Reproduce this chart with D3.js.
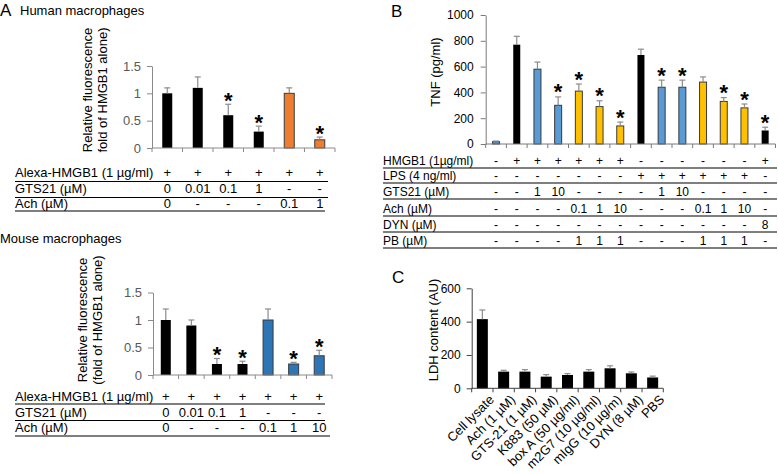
<!DOCTYPE html>
<html><head><meta charset="utf-8">
<script src="https://cdn.jsdelivr.net/npm/d3@7"></script>
<style>
body{margin:0;background:#fff;}
svg{display:block;font-family:"Liberation Sans",Arial,sans-serif;}
</style></head>
<body><svg id="c" width="778" height="474"></svg>
<script>
// ---------- DATA ----------
// Panel A - human macrophages
const humanValues = [1.0, 1.1, 0.6, 0.3, 1.0, 0.15];
const humanErrors = [0.1, 0.2, 0.2, 0.1, 0.1, 0.05];
const humanSig    = [0, 0, 1, 1, 0, 1];
const humanGroup  = ["ctrl","ctrl","ctrl","ctrl","ach","ach"];
const humanRowLabels = ["Alexa-HMGB1 (1 µg/ml)", "GTS21 (µM)", "Ach (µM)"];
const humanRowAlexa = ["+","+","+","+","+","+"];
const humanRowGTS   = ["0","0.01","0.1","1","-","-"];
const humanRowAch   = ["0","-","-","-","0.1","1"];
const fluorTicks = [0, 0.5, 1, 1.5];

// Panel A - mouse macrophages
const mouseValues = [1.0, 0.9, 0.2, 0.2, 1.0, 0.2, 0.35];
const mouseErrors = [0.2, 0.1, 0.1, 0.05, 0.2, 0.03, 0.1];
const mouseSig    = [0, 0, 1, 1, 0, 1, 1];
const mouseGroup  = ["ctrl","ctrl","ctrl","ctrl","achM","achM","achM"];
const mouseRowAlexa = ["+","+","+","+","+","+","+"];
const mouseRowGTS   = ["0","0.01","0.1","1","-","-","-"];
const mouseRowAch   = ["0","-","-","-","0.1","1","10"];

// Panel B - TNF
const tnfValues = [18, 770, 580, 300, 410, 290, 140, 690, 440, 440, 480, 330, 280, 105];
const tnfErrors = [5, 65, 55, 65, 55, 45, 30, 45, 55, 55, 40, 30, 30, 25];
const tnfSig    = [0, 0, 0, 1, 1, 1, 1, 0, 1, 1, 0, 1, 1, 1];
const tnfGroup  = ["blue","ctrl","blue","blue","yellow","yellow","yellow","ctrl","blue","blue","yellow","yellow","yellow","ctrl"];
const tnfTicks  = [0, 200, 400, 600, 800, 1000];
const tnfRowLabels = ["HMGB1 (1µg/ml)", "LPS (4 ng/ml)", "GTS21 (µM)", "Ach (µM)", "DYN (µM)", "PB (µM)"];
const tnfRowHMGB1 = ["-","+","+","+","+","+","+","-","-","-","-","-","-","+"];
const tnfRowLPS   = ["-","-","-","-","-","-","-","+","+","+","+","+","+","-"];
const tnfRowGTS   = ["-","-","1","10","-","-","-","-","1","10","-","-","-","-"];
const tnfRowAch   = ["-","-","-","-","0.1","1","10","-","-","-","0.1","1","10","-"];
const tnfRowDYN   = ["-","-","-","-","-","-","-","-","-","-","-","-","-","8"];
const tnfRowPB    = ["-","-","-","-","1","1","1","-","-","-","1","1","1","-"];

// Panel C - LDH
const ldhCategories = ["Cell lysate","Ach (1 µM)","GTS-21 (1 µM)","K883 (50 µM)","box A (50 µg/ml)","m2G7 (10 µg/ml)","mIgG (10 µg/m)","DYN (8 µM)","PBS"];
const ldhValues = [415, 100, 100, 70, 80, 100, 120, 90, 65];
const ldhErrors = [55, 8, 12, 12, 8, 12, 15, 8, 8];
const ldhTicks  = [0, 200, 400, 600];

// ---------- DRAW ----------
const svg = d3.select("#c");
const FONT = 12;
const colors = d3.scaleOrdinal()
  .domain(["ctrl","ach","achM","blue","yellow"])
  .range(["#000000","#ED7D31","#2E75B6","#5B9BD5","#FFC000"]);

function barChart(o){
  const n = o.values.length;
  const x = d3.scaleBand().domain(d3.range(n)).range(o.xRange).padding(0);
  const y = d3.scaleLinear().domain(o.yDomain).range(o.yRange);
  const g = svg.append("g");
  const ya = g.append("g").attr("transform",`translate(${o.xRange[0]},0)`)
    .call(d3.axisLeft(y).tickValues(o.ticks).tickFormat(d=>String(d)).tickSize(5).tickSizeOuter(0).tickPadding(o.tickPad||5));
  ya.select(".domain").attr("stroke",o.axisColor);
  ya.selectAll(".tick line").attr("stroke",o.axisColor);
  ya.selectAll(".tick text").attr("fill",o.tickColor).style("font-size",o.tickFont+"px")
    .style("font-family",'"Liberation Sans",Arial,sans-serif');
  const cx = i => x(i) + x.bandwidth()/2;
  const items = o.values.map((v,i)=>({i, v, e:o.errors[i], grp:o.groups[i], sig:o.sig?o.sig[i]:0}));
  g.selectAll("rect.bar").data(items).join("rect").attr("class","bar")
    .attr("x",d=>cx(d.i)-o.barWidth/2).attr("width",o.barWidth)
    .attr("y",d=>y(d.v)).attr("height",d=>y(0)-y(d.v))
    .attr("fill",d=>colors(d.grp))
    .attr("stroke",d=>d.grp==="ctrl"?"none":"#3a3a3a").attr("stroke-width",1);
  const eg = g.selectAll("g.err").data(items).join("g").attr("class","err");
  eg.append("line").attr("x1",d=>cx(d.i)).attr("x2",d=>cx(d.i))
    .attr("y1",d=>y(d.v)).attr("y2",d=>y(d.v+d.e)).attr("stroke","#8c8c8c").attr("stroke-width",1.2);
  eg.append("line").attr("x1",d=>cx(d.i)-3).attr("x2",d=>cx(d.i)+3)
    .attr("y1",d=>y(d.v+d.e)).attr("y2",d=>y(d.v+d.e)).attr("stroke","#8c8c8c").attr("stroke-width",1.2);
  g.append("line").attr("x1",o.xRange[0]).attr("x2",o.xRange[1]).attr("y1",y(0)).attr("y2",y(0))
    .attr("stroke",o.axisColor);
  const bounds = d3.range(n+1).map(i => i<n ? x(i) : o.xRange[1]);
  g.selectAll("line.xt").data(bounds).join("line").attr("class","xt")
    .attr("x1",d=>d).attr("x2",d=>d).attr("y1",y(0)).attr("y2",y(0)+4).attr("stroke",o.axisColor);
  g.selectAll("text.sig").data(items.filter(d=>d.sig)).join("text").attr("class","sig")
    .attr("x",d=>cx(d.i)).attr("y",d=>y(d.v+d.e) - (o.sigGap||0) + 12.5)
    .attr("text-anchor","middle").style("font-size","22px").style("font-weight","bold").text("*");
  return {x, y, cx};
}

function yLabel(lines, cx, cy, size, lh){
  const t = svg.append("text").attr("transform",`translate(${cx},${cy}) rotate(-90)`)
    .attr("text-anchor","middle").style("font-size",size+"px");
  lines.forEach((l,i)=>{
    t.append("tspan").attr("x",0).attr("y",(i-(lines.length-1)/2)*lh + size*0.35).text(l);
  });
}

function table(rows, labels, cx, x0, x1s, baselines, underlines, size){
  rows.forEach((row,r)=>{
    svg.append("text").attr("x",x0).attr("y",baselines[r]).style("font-size",size+"px").text(labels[r]);
    svg.selectAll(null).data(row).join("text")
      .attr("x",(d,i)=>cx(i)).attr("y",baselines[r]).attr("text-anchor","middle")
      .style("font-size",size+"px").text(d=>d);
    svg.append("line").attr("x1",x0).attr("x2",x1s[r]).attr("y1",underlines[r]).attr("y2",underlines[r])
      .attr("stroke","#000").attr("stroke-width",1.2);
  });
}

// Titles
svg.append("text").attr("x",0).attr("y",16).style("font-size","17px").text("A");
svg.append("text").attr("x",20).attr("y",15).style("font-size","13px").text("Human macrophages");
svg.append("text").attr("x",0).attr("y",243).style("font-size","13px").text("Mouse macrophages");
svg.append("text").attr("x",391).attr("y",17).style("font-size","17px").text("B");
svg.append("text").attr("x",392).attr("y",283).style("font-size","17px").text("C");

// Human
const hc = barChart({values:humanValues, errors:humanErrors, sig:humanSig, groups:humanGroup,
  xRange:[152,335], yDomain:[0,1.5], yRange:[148,66], ticks:fluorTicks, barWidth:10,
  axisColor:"#8a8a8a", tickColor:"#595959", tickFont:13, tickPad:6, sigGap:9});
yLabel(["Relative fluorescence","fold of HMGB1 alone)"], 95, 90, 13, 14.5);
table([humanRowAlexa, humanRowGTS, humanRowAch], humanRowLabels, hc.cx, 15,
  [328,328,325], [177,193,208], [181.5,197.5,211], FONT+1);

// Mouse
const mc = barChart({values:mouseValues, errors:mouseErrors, sig:mouseSig, groups:mouseGroup,
  xRange:[153,332], yDomain:[0,1.5], yRange:[375,292.5], ticks:fluorTicks, barWidth:10,
  axisColor:"#8a8a8a", tickColor:"#595959", tickFont:13, tickPad:6, sigGap:9});
yLabel(["Relative fluorescence","(fold of HMGB1 alone)"], 90, 320, 13, 14.5);
table([mouseRowAlexa, mouseRowGTS, mouseRowAch], humanRowLabels, mc.cx, 15,
  [325,325,330], [401,416.5,432], [404,420.5,436], FONT+1);

// TNF
const bc = barChart({values:tnfValues, errors:tnfErrors, sig:tnfSig, groups:tnfGroup,
  xRange:[485.7,775.5], yDomain:[0,1000], yRange:[144,15], ticks:tnfTicks, barWidth:7,
  axisColor:"#7a7a7a", tickColor:"#000", tickFont:12, tickPad:7, sigGap:10});
yLabel(["TNF (pg/ml)"], 435, 72, 13, 14);
table([tnfRowHMGB1, tnfRowLPS, tnfRowGTS, tnfRowAch, tnfRowDYN, tnfRowPB], tnfRowLabels, bc.cx, 383,
  [777,777,777,777,777,777], [165,180,196,213,229,245], [168,183,199,216,232,248], FONT);

// LDH
const cc = barChart({values:ldhValues, errors:ldhErrors, groups:ldhValues.map(()=>"ctrl"),
  xRange:[471.7,663.3], yDomain:[0,600], yRange:[388.3,288.3], ticks:ldhTicks, barWidth:11,
  axisColor:"#404040", tickColor:"#000", tickFont:12, tickPad:6});
yLabel(["LDH content (AU)"], 433, 330, 13, 14);
svg.selectAll("text.xl").data(ldhCategories).join("text").attr("class","xl")
  .attr("transform",(d,i)=>`translate(${cc.cx(i)+6},${394}) rotate(-45)`)
  .attr("text-anchor","end").attr("dy","0.7em").style("font-size","13px").text(d=>d);
</script></body></html>
